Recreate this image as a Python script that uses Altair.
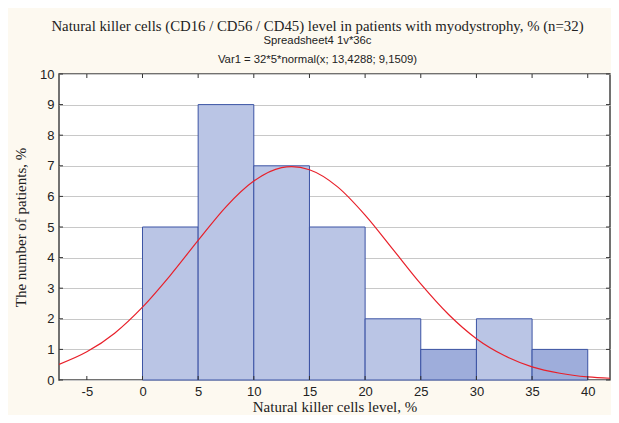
import altair as alt
import pandas as pd

# Histogram bins and counts
bin_start = [0, 5, 10, 15, 20, 25, 30, 35]
bin_end = [5, 10, 15, 20, 25, 30, 35, 40]
counts = [5, 9, 7, 5, 2, 1, 2, 1]

# Fitted normal curve
curve_x = [-7.5, -5, -2.5, 0, 2.5, 5, 7.5, 10, 12.5, 13.4, 15, 17.5, 20,
           22.5, 25, 27.5, 30, 32.5, 35, 37.5, 40, 42.5]
curve_y = [0.51, 0.92, 1.53, 2.38, 3.42, 4.56, 5.66, 6.50, 6.94, 6.97, 6.87,
           6.32, 5.39, 4.27, 3.14, 2.14, 1.35, 0.80, 0.43, 0.22, 0.10, 0.05]

x_ticks = [-5, 0, 5, 10, 15, 20, 25, 30, 35, 40]
y_ticks = [0, 1, 2, 3, 4, 5, 6, 7, 8, 9, 10]

title_text = "Natural killer cells (CD16 / CD56 / CD45) level in patients with myodystrophy, % (n=32)"
subtitle_lines = ["Spreadsheet4 1v*36c", "Var1 = 32*5*normal(x; 13,4288; 9,1509)"]

hist = pd.DataFrame({"start": bin_start, "end": bin_end, "count": counts})
curve = pd.DataFrame({"x": curve_x, "y": curve_y})
xt = pd.DataFrame({"v": x_ticks})
yt = pd.DataFrame({"v": y_ticks})

W, H = 551, 306
x_scale = alt.Scale(domain=[-7.5, 42.0], nice=False, zero=False)
y_scale = alt.Scale(domain=[0, 10], nice=False)

x_axis = alt.Axis(values=x_ticks, title="Natural killer cells level, %",
                  grid=False, ticks=False, domain=False,
                  labelExpr="replace(datum.label, '\u2212', '-')",
                  labelFont="Liberation Sans", labelFontSize=13,
                  labelColor="#222222", labelPadding=5,
                  titleFont="Liberation Serif", titleFontSize=15,
                  titleFontWeight="normal", titleColor="#222222",
                  titlePadding=1)
y_axis = alt.Axis(values=y_ticks, title="The number of patients, %",
                  grid=True, gridColor="#c8c8c8", gridWidth=1,
                  ticks=False, domain=False, labelOverlap=False,
                  labelFont="Liberation Sans", labelFontSize=13,
                  labelColor="#222222", labelPadding=5,
                  titleFont="Liberation Serif", titleFontSize=15,
                  titleFontWeight="normal", titleColor="#222222",
                  titlePadding=11)

bars = alt.Chart(hist).mark_rect(stroke="#3b53a4", strokeWidth=1, opacity=1).encode(
    x=alt.X("start:Q", scale=x_scale, axis=x_axis),
    x2="end:Q",
    y=alt.Y("count:Q", scale=y_scale, axis=y_axis),
    y2=alt.datum(0),
    color=alt.condition(alt.datum.count <= 1, alt.value("#9eaddb"), alt.value("#bac5e5")),
)

line = alt.Chart(curve).mark_line(color="#e8202a", strokeWidth=1.2,
                                  interpolate="monotone", clip=True).encode(
    x=alt.X("x:Q", scale=x_scale, axis=x_axis),
    y=alt.Y("y:Q", scale=y_scale, axis=y_axis),
)

tick_col = "#333333"
top_ticks = alt.Chart(xt).mark_rule(color=tick_col, strokeWidth=1).encode(
    x=alt.X("v:Q", scale=x_scale, axis=x_axis), y=alt.value(0), y2=alt.value(4))
bot_ticks = alt.Chart(xt).mark_rule(color=tick_col, strokeWidth=1).encode(
    x=alt.X("v:Q", scale=x_scale, axis=x_axis), y=alt.value(H - 4), y2=alt.value(H))
left_ticks = alt.Chart(yt).mark_rule(color=tick_col, strokeWidth=1).encode(
    y=alt.Y("v:Q", scale=y_scale, axis=y_axis), x=alt.value(0), x2=alt.value(4))
right_ticks = alt.Chart(yt).mark_rule(color=tick_col, strokeWidth=1).encode(
    y=alt.Y("v:Q", scale=y_scale, axis=y_axis), x=alt.value(W - 4), x2=alt.value(W))

chart = alt.layer(bars, line, top_ticks, bot_ticks, left_ticks, right_ticks).properties(
    width=W, height=H,
    title=alt.TitleParams(text=title_text, subtitle=subtitle_lines,
                          font="Liberation Serif", fontSize=14.8, fontWeight="normal",
                          color="#222222", subtitleFont="Liberation Sans",
                          subtitleFontSize=11.3, subtitleColor="#222222",
                          subtitleLineHeight=19, subtitlePadding=1,
                          anchor="middle", offset=3, dx=-17),
    autosize=alt.AutoSizeParams(type="none"),
    padding={"left": 51, "top": 66, "right": 1, "bottom": 35},
    background="#fdf9f0",
).configure_view(fill="white", stroke="#444444", strokeWidth=1.5)

chart.save("out.html", embed_options={"renderer": "svg", "actions": False})
